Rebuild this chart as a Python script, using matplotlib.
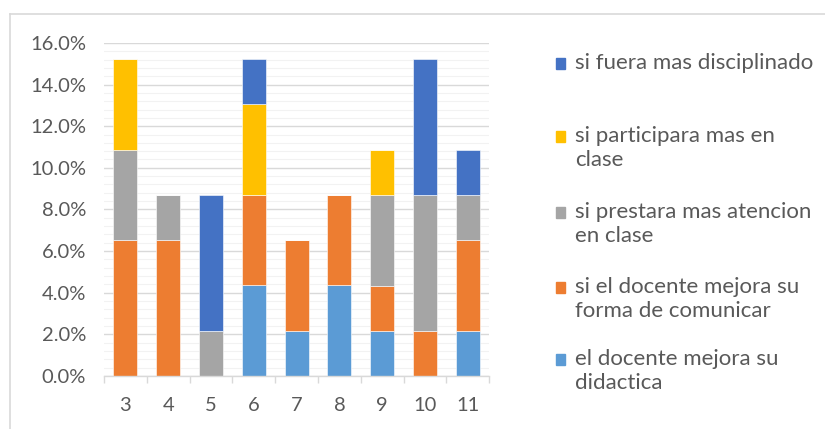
import numpy as np
import matplotlib
matplotlib.use("Agg")
import matplotlib.pyplot as plt
from matplotlib.ticker import FuncFormatter, MultipleLocator
from matplotlib.patches import Rectangle
from matplotlib.lines import Line2D

plt.rcParams['font.family'] = ['Lato', 'DejaVu Sans']

categorias = ['3', '4', '5', '6', '7', '8', '9', '10', '11']

# valores en fraccion (multiplos de 1/46)
didactica = [0, 0, 0, 0.0435, 0.0217, 0.0435, 0.0217, 0, 0.0217]
comunicar = [0.0652, 0.0652, 0, 0.0435, 0.0435, 0.0435, 0.0217, 0.0217, 0.0435]
atencion = [0.0435, 0.0217, 0.0217, 0, 0, 0, 0.0435, 0.0652, 0.0217]
participara = [0.0435, 0, 0, 0.0435, 0, 0, 0.0217, 0, 0]
disciplinado = [0, 0, 0.0652, 0.0217, 0, 0, 0, 0.0652, 0.0217]

series = [
    ("el docente mejora su\ndidactica", didactica, "#5B9BD5"),
    ("si el docente mejora su\nforma de comunicar", comunicar, "#ED7D31"),
    ("si prestara mas atencion\nen clase", atencion, "#A5A5A5"),
    ("si participara mas en\nclase", participara, "#FFC000"),
    ("si fuera mas disciplinado", disciplinado, "#4472C4"),
]

texto = "#595959"

fig = plt.figure(figsize=(8.25, 4.29), dpi=100)
ax = fig.add_axes([0.126, 0.1235, 0.467, 0.7765])

x = np.arange(len(categorias))
base = np.zeros(len(categorias))
for nombre, vals, color in series:
    vals = np.array(vals)
    ax.bar(x, vals, 0.56, bottom=base, color=color, edgecolor='white',
           linewidth=0.4, zorder=3)
    base += vals

ax.set_xlim(-0.5, len(categorias) - 0.5)
ax.set_ylim(0, 0.16)
ax.yaxis.set_major_locator(MultipleLocator(0.02))
ax.yaxis.set_minor_locator(MultipleLocator(0.004))
ax.yaxis.set_major_formatter(FuncFormatter(lambda v, p: f"{v*100:.1f}%"))
ax.grid(axis='y', which='major', color='#D9D9D9', linewidth=1.0, zorder=1)
ax.grid(axis='y', which='minor', color='#F2F2F2', linewidth=0.8, zorder=0)

ax.set_xticks(x)
ax.set_xticklabels(categorias)
ax.set_xticks(np.arange(-0.5, len(categorias)), minor=True)
ax.tick_params(axis='x', which='major', length=0, pad=15, labelsize=14.5, labelcolor=texto)
ax.tick_params(axis='x', which='minor', length=5, color='#D9D9D9', width=1)
ax.tick_params(axis='y', which='both', length=0, pad=13, labelsize=14.5, labelcolor=texto)

for s in ['top', 'right', 'left']:
    ax.spines[s].set_visible(False)
ax.spines['bottom'].set_color('#D9D9D9')
ax.spines['bottom'].set_linewidth(1)
ax.spines['bottom'].set_zorder(4)

# leyenda manual (de arriba hacia abajo)
ys = [63, 136, 212, 287, 359]
for (nombre, vals, color), yp in zip(series[::-1], ys):
    fy = 1 - yp / 429
    fig.patches.append(Rectangle((556 / 825, fy - 6 / 429), 9 / 825, 11 / 429,
                                 transform=fig.transFigure, color=color))
    fig.text(575 / 825, fy + 10 / 429, nombre, fontsize=16, color=texto,
             va='top', ha='left', linespacing=1.28)

# borde del grafico
fig.add_artist(Line2D([10 / 825, 10 / 825], [0, 1 - 14 / 429], transform=fig.transFigure,
                      color='#D9D9D9', linewidth=1.2))
fig.add_artist(Line2D([10 / 825, 1], [1 - 14 / 429, 1 - 14 / 429], transform=fig.transFigure,
                      color='#D9D9D9', linewidth=1.2))

fig.savefig("out.png", dpi=100)
